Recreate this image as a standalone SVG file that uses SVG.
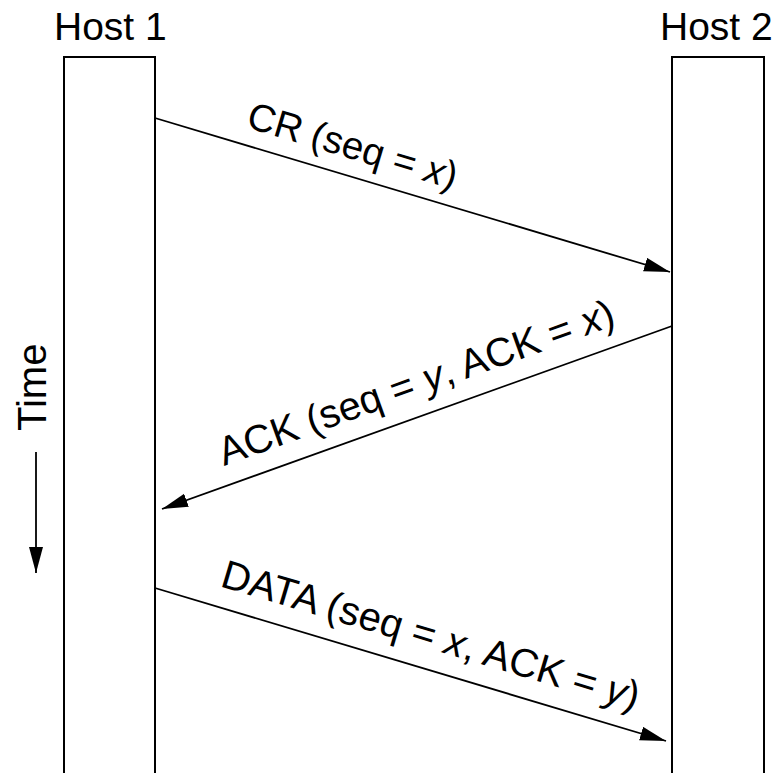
<svg xmlns="http://www.w3.org/2000/svg" width="779" height="773" viewBox="0 0 779 773">
  <style>
    .lbl { font-family: "Liberation Sans", Arial, sans-serif; font-size: 40px; fill: #000; }
    .hostlbl { font-size: 39px; }
    .host { fill: #fff; stroke: #000; stroke-width: 2; }
    .msg { stroke: #000; stroke-width: 1.8; fill: none; marker-end: url(#arrow); }
  </style>
  <defs>
    <marker id="arrow" markerUnits="userSpaceOnUse" markerWidth="27" markerHeight="15" refX="26" refY="7" orient="auto">
      <path d="M0,0 L26,7 L0,14 z" fill="#000"/>
    </marker>
  </defs>
  <rect width="779" height="773" fill="#fff"/>

  <g id="host1">
    <rect class="host" x="64" y="57" width="91" height="740"/>
    <text class="lbl hostlbl" x="54" y="40">Host 1</text>
  </g>
  <g id="host2">
    <rect class="host" x="672" y="57" width="92" height="740"/>
    <text class="lbl hostlbl" x="660" y="40">Host 2</text>
  </g>

  <g id="time">
    <text class="lbl" transform="translate(46,431) rotate(-90)">Time</text>
    <line class="msg" x1="36" y1="452" x2="36" y2="573"/>
  </g>

  <g id="connectors">
    <line class="msg" x1="155" y1="118" x2="670" y2="272"/>
    <line class="msg" x1="672" y1="326" x2="162" y2="509"/>
    <line class="msg" x1="155" y1="588" x2="666" y2="741"/>
  </g>

  <g id="labels">
    <text class="lbl" style="font-size:38.5px" transform="translate(245,127) rotate(16.7)">CR (seq = <tspan font-style="italic">x</tspan>)</text>
    <text class="lbl" transform="translate(224,466) rotate(-19.8)">ACK (seq = <tspan font-style="italic">y</tspan>, ACK = <tspan font-style="italic">x</tspan>)</text>
    <text class="lbl" transform="translate(219,586) rotate(16.6)">DATA (seq = <tspan font-style="italic">x</tspan>, ACK = <tspan font-style="italic">y</tspan>)</text>
  </g>
</svg>
